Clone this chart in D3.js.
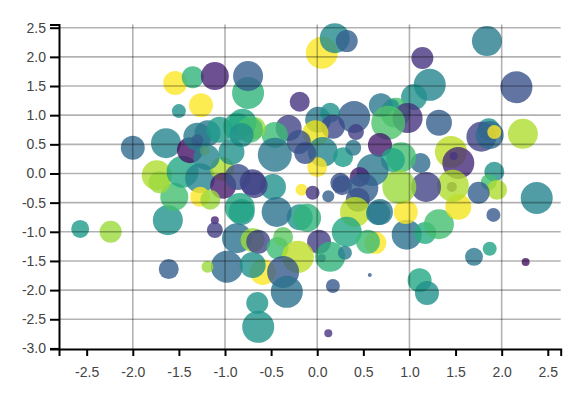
<!DOCTYPE html>
<html><head><meta charset="utf-8">
<script src="https://cdn.jsdelivr.net/npm/d3@7/dist/d3.min.js"></script>
<style>
body{margin:0;background:#fff;}
svg text{font-family:"Liberation Sans",Arial,sans-serif;}
</style></head>
<body><svg id="chart" width="586" height="405"></svg>
<script>
const xVals=[-2.57,-2.24,-1.62,-1.61,-2.00,-1.64,-1.50,-1.26,-1.54,-1.35,-1.11,-0.75,-0.75,-0.19,0.05,0.19,0.32,1.14,1.84,2.16,1.22,1.05,0.85,0.98,1.32,2.23,1.86,1.78,1.87,1.92,1.45,1.53,1.48,1.12,0.91,1.92,1.86,1.95,1.75,2.38,1.91,1.70,1.87,2.26,1.11,1.19,0.97,1.17,1.32,0.96,1.53,1.46,1.47,1.18,0.89,0.40,0.42,0.69,0.82,0.77,0.68,0.82,0.01,0.14,0.17,-0.02,-0.31,-0.46,-0.68,-0.81,-0.20,-0.46,0.06,0.28,0.39,0.00,-0.13,0.25,0.60,0.46,-0.48,-0.68,-0.17,-0.05,0.12,0.27,0.50,0.44,0.41,0.66,-0.19,-0.44,-0.82,-0.84,-0.11,-1.11,-1.11,0.02,0.05,0.14,0.32,0.17,0.57,0.30,0.68,0.63,0.55,0.12,-0.87,-0.98,-1.19,-0.70,-0.64,-0.59,-0.70,-0.43,-0.37,-0.21,-0.37,-0.33,-0.65,-0.64,-1.55,-1.74,-1.71,-1.46,-1.27,-1.38,-1.30,-1.19,-1.06,-0.87,-0.73,-0.82,-1.22,-1.30,-1.03,-1.02,-0.86,-0.70,-1.27,-1.16,-0.93,-1.20];
const yVals=[-0.95,-1.00,-0.80,-1.64,0.44,0.52,1.07,1.17,1.55,1.65,1.67,1.38,1.67,1.23,2.07,2.32,2.27,1.98,2.27,1.48,1.52,1.31,1.04,0.95,0.87,0.68,0.76,0.63,0.66,0.71,0.37,0.18,0.30,0.18,0.28,0.03,-0.15,-0.28,-0.33,-0.42,-0.71,-1.43,-1.29,-1.52,-1.83,-2.05,-1.05,-1.02,-0.87,-0.66,-0.57,-0.23,-0.21,-0.23,-0.23,0.97,0.71,1.17,1.17,0.87,0.49,0.23,0.92,1.04,0.80,0.69,0.78,0.66,0.78,0.87,0.54,0.32,0.37,0.28,0.44,0.11,0.35,-0.16,0.06,-0.06,-0.23,-0.20,-0.28,-0.33,-0.39,-0.20,-0.25,-0.45,-0.66,-0.68,-0.75,-0.66,-0.66,-0.59,-0.76,-0.80,-0.97,-1.17,-1.45,-1.43,-1.00,-1.93,-1.74,-1.36,-0.66,-1.19,-1.17,-2.74,-1.11,-1.60,-1.60,-1.14,-1.17,-1.69,-1.57,-1.28,-1.09,-1.43,-1.69,-2.03,-2.22,-2.63,-0.40,-0.03,-0.15,0.03,-0.08,0.40,0.63,0.69,0.75,0.80,0.75,0.66,0.39,0.57,0.08,-0.21,-0.06,-0.15,-0.40,-0.45,0.37,0.28];
const sizeVals=[9,11,15,10,12,15,7,12,12,11,14,16,15,10,16,15,11,11,15,16,16,13,15,15,13,15,11,15,14,7,16,16,4,10,15,10,8,10,11,16,7,9,7,4,12,12,15,11,15,12,13,5,16,15,17,16,8,12,6,17,12,12,13,10,12,13,13,13,11,14,12,17,15,10,8,10,11,10,16,10,13,13,6,7,6,10,15,12,15,12,13,15,13,15,14,4,8,12,4,15,15,7,2,7,13,11,12,4,15,16,6,12,12,13,13,11,10,16,16,16,11,16,14,15,11,16,15,13,14,13,13,14,13,12,5,6,12,13,13,13,10,10,13,13];
const colorVals=[0.55,0.85,0.5,0.3,0.35,0.45,0.5,1.0,1.0,0.65,0.1,0.65,0.3,0.15,1.0,0.48,0.3,0.15,0.42,0.25,0.45,0.5,0.7,0.15,0.3,0.88,0.5,0.2,0.35,1.0,0.9,0.12,0.15,0.35,0.7,0.5,0.7,0.88,0.3,0.45,0.28,0.4,0.58,0.05,0.6,0.5,0.38,0.62,0.7,1.0,0.98,0.1,0.88,0.2,0.85,0.3,0.18,0.4,0.5,0.72,0.08,0.6,0.4,0.5,0.22,0.97,0.2,0.68,0.85,0.6,0.25,0.4,0.45,0.55,0.4,1.0,0.25,0.25,0.4,0.1,0.5,0.2,1.0,0.15,0.3,0.25,0.3,0.25,0.9,0.45,0.5,0.38,0.5,0.6,0.65,0.1,0.18,0.18,0.1,0.65,0.6,0.28,0.3,0.42,0.4,1.0,0.68,0.15,0.38,0.35,0.85,0.85,0.2,1.0,0.5,0.68,0.75,0.9,0.28,0.38,0.52,0.52,0.7,0.88,0.85,0.6,0.45,0.05,0.42,0.4,0.55,0.6,0.7,0.5,1.0,0.3,0.88,0.08,0.25,0.2,1.0,0.85,0.5,0.45];
const xTicks=[-2.5,-2.0,-1.5,-1.0,-0.5,0.0,0.5,1.0,1.5,2.0,2.5];
const yTicks=[-3.0,-2.5,-2.0,-1.5,-1.0,-0.5,0.0,0.5,1.0,1.5,2.0,2.5];
const xGrid=[-2,-1,0,1,2];
const yGrid=[-2.5,-2.0,-1.5,-1.0,-0.5,0.0,0.5,1.0,1.5,2.0,2.5];

const svg=d3.select("#chart");
const x=d3.scaleLinear().domain([-2.80,2.64]).range([59,560.7]);
const y=d3.scaleLinear().domain([-3.01,2.555]).range([349,24.5]);
const r=d3.scaleLinear().domain([0,20]).range([0,20]);
const color=d3.scaleSequential(d3.interpolateViridis).domain([0,1]);

const pts=xVals.map((v,i)=>({x:v,y:yVals[i],s:sizeVals[i],c:colorVals[i]}));
svg.append("g").selectAll("circle").data(pts).join("circle")
  .attr("cx",d=>x(d.x)).attr("cy",d=>y(d.y)).attr("r",d=>r(d.s))
  .attr("fill",d=>color(d.c)).attr("fill-opacity",0.8);

const grid=svg.append("g").attr("stroke","#000").attr("stroke-opacity",0.3).attr("stroke-width",1.6);
grid.selectAll("line.v").data(xGrid).join("line").attr("class","v")
  .attr("x1",d=>x(d)).attr("x2",d=>x(d)).attr("y1",y.range()[1]).attr("y2",y.range()[0]);
grid.selectAll("line.h").data(yGrid).join("line").attr("class","h")
  .attr("y1",d=>y(d)).attr("y2",d=>y(d)).attr("x1",x.range()[0]).attr("x2",x.range()[1]);

const fmt=d=>d.toFixed(1);
const xa=svg.append("g").attr("transform","translate(0,349)")
  .call(d3.axisBottom(x).tickValues(xTicks).tickSize(7).tickPadding(11).tickFormat(fmt));
const ya=svg.append("g").attr("transform","translate(59,0)")
  .call(d3.axisLeft(y).tickValues(yTicks).tickSize(9).tickPadding(4).tickFormat(fmt));
[xa,ya].forEach(g=>{
  g.selectAll("path,line").attr("stroke","#000").attr("stroke-width",2);
  g.selectAll("text").attr("fill","#444").style("font-size","14px");
});
</script></body></html>
